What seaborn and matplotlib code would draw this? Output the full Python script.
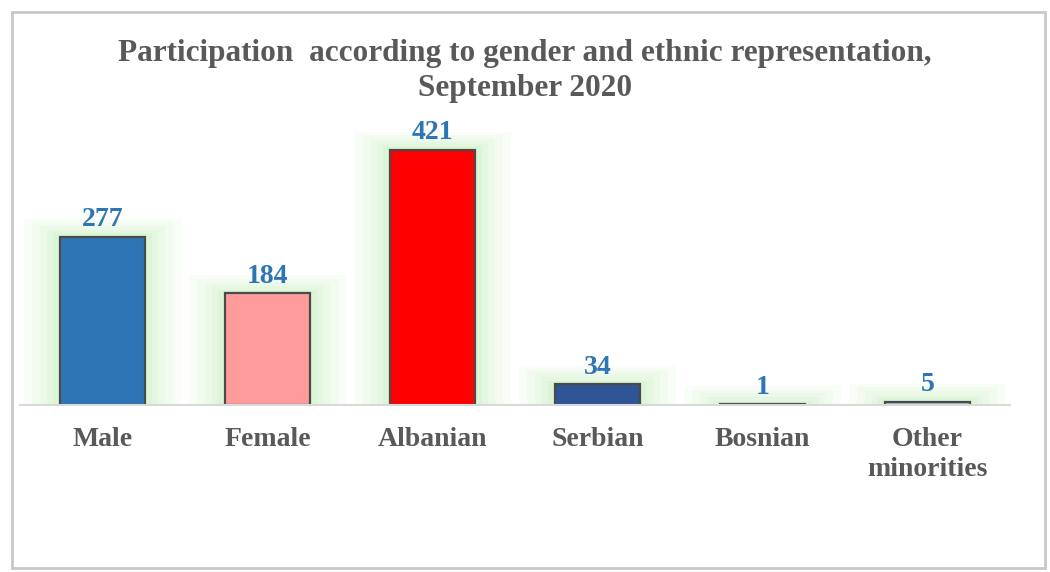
import matplotlib
matplotlib.use("Agg")
import matplotlib.pyplot as plt
import seaborn as sns
import pandas as pd
import numpy as np
from matplotlib.patches import Rectangle

categories = ["Male", "Female", "Albanian", "Serbian", "Bosnian", "Other\nminorities"]
values = [277, 184, 421, 34, 1, 5]
bar_colors = ["#2E75B6", "#FF9B9B", "#FF0000", "#2F5597", "#B4C7E7", "#B4C7E7"]
title = "Participation  according to gender and ethnic representation,\nSeptember 2020"

sns.set_theme(style="white")
plt.rcParams["font.family"] = ["Liberation Serif", "DejaVu Serif"]

df = pd.DataFrame({"cat": categories, "val": values})

fig = plt.figure(figsize=(10.5, 5.72), dpi=100)
ax = fig.add_axes([20/1050, (572-405)/572, 990/1050, 305/572])

# soft green glow behind bars
for w, extra, a in [(0.95, 30, 0.10), (0.85, 24, 0.12), (0.76, 18, 0.15), (0.67, 12, 0.2), (0.6, 6, 0.25)]:
    gdf = pd.DataFrame({"cat": categories, "val": [v + extra for v in values]})
    sns.barplot(data=gdf, x="cat", y="val", hue="cat", palette=["#C8F2C0"] * 6,
                width=w, ax=ax, legend=False, alpha=a, linewidth=0, saturation=1,
                err_kws={"linewidth": 0})

sns.barplot(data=df, x="cat", y="val", hue="cat", palette=bar_colors,
            width=0.52, ax=ax, legend=False, edgecolor="#4A4A4A", linewidth=1.6,
            saturation=1, err_kws={"linewidth": 0})

ax.set_ylim(0, 503)
ax.set_xlim(-0.5, 5.5)
ax.set_xlabel("")
ax.set_ylabel("")
ax.set_yticks([])
for s in ["top", "right", "left"]:
    ax.spines[s].set_visible(False)
ax.spines["bottom"].set_color("#D9D9D9")
ax.spines["bottom"].set_linewidth(1.5)
ax.spines["bottom"].set_zorder(5)

ax.set_xticks(range(len(categories)))
ax.set_xticklabels(categories, fontsize=20, fontweight="bold", color="#595959",
                   linespacing=1.25)
ax.tick_params(axis="x", which="major", length=0, pad=16)
ax.set_xticks(np.arange(0.5, 5.6, 1.0), minor=True)
ax.tick_params(axis="x", which="minor", length=7, color="#D9D9D9", width=1.5,
               direction="out")

for i, v in enumerate(values):
    ax.text(i, v + 8, str(v), ha="center", va="bottom", fontsize=20,
            fontweight="bold", color="#2E75B6")

fig.text(0.5, 0.932, title, ha="center", va="top", fontsize=22.5,
         fontweight="bold", color="#595959", linespacing=1.3)

fig.patches.append(Rectangle((12/1050, 4/572), 1033/1050, 556/572,
                             transform=fig.transFigure, fill=False,
                             edgecolor="#C8C8C8", linewidth=2))

fig.savefig("out.png", dpi=100)
